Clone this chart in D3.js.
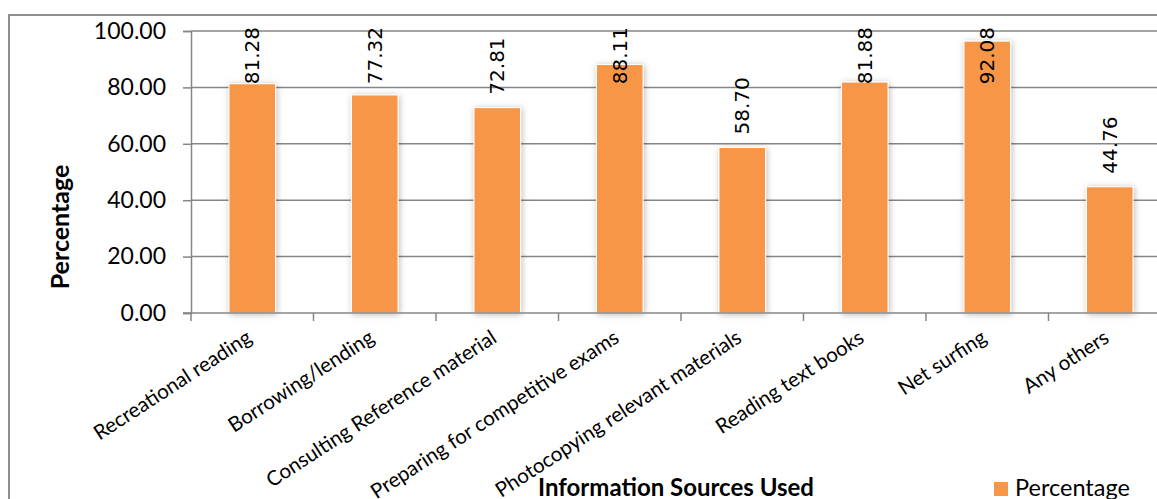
<!DOCTYPE html>
<html>
<head>
<meta charset="utf-8">
<script src="https://cdn.jsdelivr.net/npm/d3@7"></script>
<style>
  html, body { margin: 0; padding: 0; background: #fff; }
  svg { display: block; }
</style>
</head>
<body>
<div id="chart"></div>
<script>
(function() { // IIFE to keep things out of the global scope.

  'use strict'

  // Chart data.
  var categories = [
    'Recreational reading',
    'Borrowing/lending',
    'Consulting Reference material',
    'Preparing for competitive exams',
    'Photocopying relevant materials',
    'Reading text books',
    'Net surfing',
    'Any others'
  ];
  // Bar heights as drawn (the Net surfing bar is drawn taller than its label).
  var values      = [81.28, 77.32, 72.81, 88.11, 58.70, 81.88, 96.4, 44.76];
  var valueLabels = ['81.28', '77.32', '72.81', '88.11', '58.70', '81.88', '92.08', '44.76'];
  var yTicks      = [0, 20, 40, 60, 80, 100];
  var seriesName  = 'Percentage';

  var width  = 1157;
  var height = 499;

  // Plot area (it runs past the right edge of the picture).
  var left   = 191;
  var right  = 1171;
  var top    = 31;
  var bottom = 313;

  var orange = '#f79646';
  var grey   = '#868686';
  var tickFont  = 'Lato, "Open Sans", sans-serif';
  var labelFont = '"DejaVu Sans", sans-serif';

  var svg = d3.select('#chart')
              .append('svg')
              .attr('width', width)
              .attr('height', height);

  // Soft shadow behind the bars.
  var defs = svg.append('defs');
  var filter = defs.append('filter')
                   .attr('id', 'barShadow')
                   .attr('x', '-30%').attr('y', '-10%')
                   .attr('width', '160%').attr('height', '120%');
  filter.append('feDropShadow')
        .attr('dx', 1).attr('dy', 1)
        .attr('stdDeviation', 3)
        .attr('flood-color', '#000')
        .attr('flood-opacity', 0.28);

  // Chart area frame, only top and left edges are inside the picture.
  svg.append('path')
     .attr('d', 'M9,' + height + 'V15H' + width)
     .attr('fill', 'none')
     .attr('stroke', '#8f8f8f')
     .attr('stroke-width', 2);

  var x = d3.scaleBand()
            .domain(categories)
            .range([left, right])
            .paddingInner(0.62)
            .paddingOuter(0.31);

  var band = d3.scaleBand()
               .domain(categories)
               .range([left, right]);

  var y = d3.scaleLinear()
            .domain([0, 100])
            .range([bottom, top]);

  // Gridlines.
  svg.append('g')
     .selectAll('line')
     .data(yTicks.slice(1))
     .enter().append('line')
     .attr('x1', left)
     .attr('x2', right)
     .attr('y1', function(d) { return y(d); })
     .attr('y2', function(d) { return y(d); })
     .attr('stroke', grey)
     .attr('stroke-width', 1.5);

  // Y axis.
  var yAxis = svg.append('g')
                 .attr('transform', 'translate(' + left + ',0)')
                 .call(d3.axisLeft(y)
                         .tickValues(yTicks)
                         .tickSize(8)
                         .tickPadding(17)
                         .tickFormat(d3.format('.2f')));
  yAxis.select('.domain').attr('stroke', grey).attr('stroke-width', 1.5);
  yAxis.selectAll('.tick line').attr('stroke', grey).attr('stroke-width', 1.5);
  yAxis.selectAll('.tick text')
       .attr('font-family', tickFont)
       .attr('font-size', 23)
       .attr('fill', '#000');

  // Bars.
  svg.append('g')
     .selectAll('rect')
     .data(values)
     .enter().append('rect')
     .attr('x', function(d, i) { return x(categories[i]); })
     .attr('y', function(d) { return y(d); })
     .attr('width', x.bandwidth())
     .attr('height', function(d) { return bottom - y(d); })
     .attr('fill', orange)
     .attr('stroke', '#fff')
     .attr('stroke-width', 1)
     .attr('filter', 'url(#barShadow)');

  // X axis line and ticks at the band edges.
  var xAxis = svg.append('g');
  xAxis.append('line')
       .attr('x1', left - 8).attr('x2', right)
       .attr('y1', bottom).attr('y2', bottom)
       .attr('stroke', grey)
       .attr('stroke-width', 1.5);
  xAxis.selectAll('line.tick')
       .data(categories)
       .enter().append('line')
       .attr('class', 'tick')
       .attr('x1', function(d) { return band(d); })
       .attr('x2', function(d) { return band(d); })
       .attr('y1', bottom)
       .attr('y2', bottom + 8)
       .attr('stroke', grey)
       .attr('stroke-width', 1.5);

  // Category labels, slanted.
  xAxis.selectAll('text')
       .data(categories)
       .enter().append('text')
       .attr('transform', function(d) {
         return 'translate(' + (band(d) + band.bandwidth() / 2 - 7) + ',' + (bottom + 16) + ') rotate(-33)';
       })
       .attr('text-anchor', 'end')
       .attr('dy', '0.7em')
       .attr('font-family', tickFont)
       .attr('font-size', 20.5)
       .attr('fill', '#000')
       .text(function(d) { return d; });

  // Value labels, rotated, kept inside the plot top.
  var labelGap = 13;
  var labels = svg.append('g')
                  .selectAll('text')
                  .data(values)
                  .enter().append('text')
                  .attr('font-family', labelFont)
                  .attr('font-size', 20)
                  .attr('fill', '#000')
                  .attr('dominant-baseline', 'central')
                  .text(function(d, i) { return valueLabels[i]; });

  labels.attr('transform', function(d, i) {
    var len = this.getComputedTextLength();
    var base = y(d) - labelGap;
    if(base - len < 27) {
      base = 27 + len;
    }
    var cx = x(categories[i]) + x.bandwidth() / 2;
    return 'translate(' + cx + ',' + base + ') rotate(-90)';
  });

  // Axis titles.
  svg.append('text')
     .attr('transform', 'translate(59,227) rotate(-90)')
     .attr('text-anchor', 'middle')
     .attr('dominant-baseline', 'central')
     .attr('font-family', tickFont)
     .attr('font-weight', 'bold')
     .attr('font-size', 25)
     .text('Percentage');

  svg.append('text')
     .attr('x', 676)
     .attr('y', 496)
     .attr('text-anchor', 'middle')
     .attr('font-family', tickFont)
     .attr('font-weight', 'bold')
     .attr('font-size', 24)
     .text('Information Sources Used');

  // Legend.
  var legend = svg.append('g');
  legend.append('rect')
        .attr('x', 994).attr('y', 482)
        .attr('width', 14).attr('height', 14)
        .attr('fill', orange);
  legend.append('text')
        .attr('x', 1015)
        .attr('y', 496)
        .attr('font-family', tickFont)
        .attr('font-size', 23.5)
        .text(seriesName);

})(); // End of IIFE
</script>
</body>
</html>
